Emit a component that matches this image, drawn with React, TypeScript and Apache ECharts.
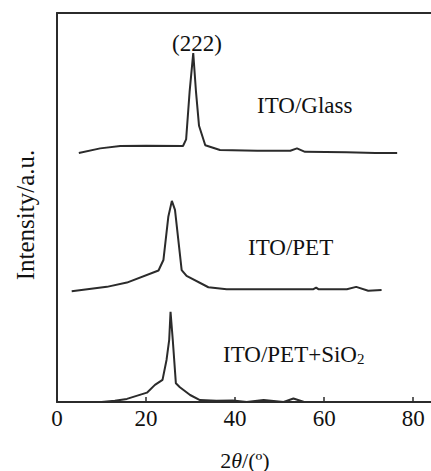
import React, { useEffect, useRef } from "react";
import * as echarts from "echarts";

// 2θ (deg) vs relative intensity (stacked offsets, arbitrary units)
const glassX = [4.9, 9.7, 14.2, 20, 28.3, 29.0, 29.8, 30.6, 31.2, 31.9, 33.3, 36.6, 45, 52.4, 53.9, 55.7, 65, 71.5, 76.4];
const glassY = [64.0, 65.2, 65.8, 65.9, 65.8, 67.5, 80, 89.7, 80, 71, 66, 64.8, 64.6, 64.6, 65.2, 64.3, 64.2, 64.0, 64.0];

const petX = [3.3, 11.2, 15.7, 22.8, 23.9, 25.0, 25.8, 26.5, 28.0, 29.1, 34.0, 38.1, 57.6, 58.2, 58.7, 65.1, 67.2, 69.9, 72.9];
const petY = [28.5, 29.6, 30.7, 33.8, 36.5, 47.6, 51.7, 49.4, 33.9, 32.4, 29.5, 29.0, 29.0, 29.4, 29.0, 29.0, 29.6, 28.6, 28.8];

const sioX = [10.0, 13.0, 15.7, 20.2, 22.0, 23.7, 24.6, 25.2, 25.5, 26.0, 26.7, 27.6, 29.9, 32.1, 35.8, 39.5, 42.6, 46.4, 50.9, 53.1, 55.0, 55.5];
const sioY = [0, 0.3, 0.8, 2.4, 4.4, 5.7, 10.8, 16, 23.2, 16, 4.8, 3.8, 1.8, 0.5, 0.3, 0.4, 0, 0.5, 0, 0.9, 0.2, 0];

const xTicks = [0, 20, 40, 60, 80];
const sampleLabels = ["ITO/Glass", "ITO/PET", "ITO/PET+SiO"];
const peakLabel = "(222)";
const yTitle = "Intensity/a.u.";

const FONT = "'Liberation Serif', 'Times New Roman', serif";
const INK = "#2b2b2b";

function pairs(xs: number[], ys: number[]) {
  return xs.map((x, i) => [x, ys[i]]);
}

export default function App() {
  const ref = useRef<HTMLDivElement>(null);
  useEffect(() => {
    if (!ref.current) return;
    const chart = echarts.init(ref.current, null, { renderer: "svg" });
    const lineSeries = (data: number[][]) => ({
      type: "line",
      data,
      showSymbol: false,
      symbol: "none",
      lineStyle: { color: INK, width: 2 },
      xAxisIndex: 0,
      yAxisIndex: 0,
    });
    chart.setOption({
      animation: false,
      backgroundColor: "#fff",
      grid: { left: 57, top: 13, right: 0, bottom: 69, outerBoundsMode: "none", containLabel: false },
      xAxis: [
        {
          type: "value",
          min: 0,
          max: 84,
          interval: 20,
          axisLine: { show: true, lineStyle: { color: INK, width: 2 } },
          axisTick: { show: true, inside: true, length: 5, lineStyle: { color: INK, width: 1.5 } },
          axisLabel: {
            color: "#111",
            fontFamily: FONT,
            fontSize: 23,
            margin: 5,
            showMaxLabel: false,
            formatter: (v: number) => (xTicks.includes(v) ? String(v) : ""),
          },
          splitLine: { show: false },
        },
        {
          type: "value",
          position: "top",
          min: 0,
          max: 84,
          axisLine: { show: true, lineStyle: { color: INK, width: 2 } },
          axisTick: { show: false },
          axisLabel: { show: false },
          splitLine: { show: false },
        },
      ],
      yAxis: {
        type: "value",
        min: 0,
        max: 100,
        axisLine: { show: true, lineStyle: { color: INK, width: 2 } },
        axisTick: { show: false },
        axisLabel: { show: false },
        splitLine: { show: false },
      },
      series: [
        lineSeries(pairs(glassX, glassY)),
        lineSeries(pairs(petX, petY)),
        lineSeries(pairs(sioX, sioY)),
      ],
      graphic: [
        {
          type: "text",
          x: 25,
          y: 215,
          rotation: Math.PI / 2,
          style: { text: yTitle, fontFamily: FONT, fontSize: 25, fill: "#111", align: "center", verticalAlign: "middle" },
        },
        {
          type: "text",
          x: 245,
          y: 460,
          style: {
            text: "{a|2}{b|θ}{a|/(º)}",
            align: "center",
            verticalAlign: "middle",
            rich: {
              a: { fontFamily: FONT, fontSize: 22, fill: "#111" },
              b: { fontFamily: FONT, fontSize: 22, fill: "#111", fontStyle: "italic" },
            },
          },
        },
        {
          type: "text",
          x: 197,
          y: 43,
          style: { text: peakLabel, fontFamily: FONT, fontSize: 23, fill: "#111", align: "center", verticalAlign: "middle" },
        },
        {
          type: "text",
          x: 257,
          y: 105,
          style: { text: sampleLabels[0], fontFamily: FONT, fontSize: 23, fill: "#111", align: "left", verticalAlign: "middle" },
        },
        {
          type: "text",
          x: 248,
          y: 247,
          style: { text: sampleLabels[1], fontFamily: FONT, fontSize: 23, fill: "#111", align: "left", verticalAlign: "middle" },
        },
        {
          type: "text",
          x: 223,
          y: 353,
          style: {
            text: "{a|" + sampleLabels[2] + "}{s|2}",
            fontFamily: FONT,
            fontSize: 23,
            fill: "#111",
            align: "left",
            verticalAlign: "middle",
            rich: {
              a: { fontFamily: FONT, fontSize: 23, fill: "#111", verticalAlign: "bottom", lineHeight: 26 },
              s: { fontFamily: FONT, fontSize: 15, fill: "#111", verticalAlign: "bottom", lineHeight: 20 },
            },
          },
        },
      ],
    });
    return () => chart.dispose();
  }, []);
  return <div ref={ref} style={{ position: "fixed", left: 0, top: 0, width: 431, height: 471 }} />;
}
